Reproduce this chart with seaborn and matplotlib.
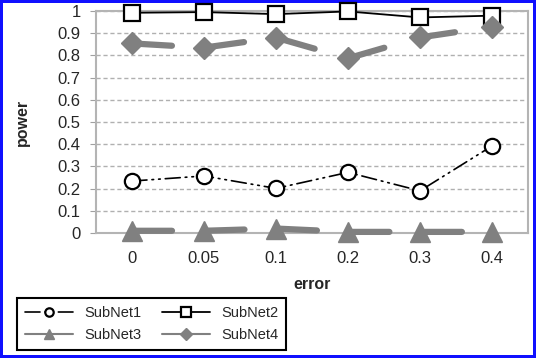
import numpy as np
import pandas as pd
import matplotlib
matplotlib.use("Agg")
import matplotlib.pyplot as plt
import seaborn as sns

# values
errors = ["0", "0.05", "0.1", "0.2", "0.3", "0.4"]
subnet1 = [0.234, 0.257, 0.201, 0.273, 0.190, 0.392]
subnet2 = [0.992, 0.995, 0.986, 0.998, 0.971, 0.979]
subnet3 = [0.010, 0.010, 0.020, 0.005, 0.005, 0.005]
subnet4 = [0.854, 0.835, 0.880, 0.787, 0.881, 0.929]

sns.set_style("white")
plt.rcParams["font.family"] = ["Liberation Sans", "DejaVu Sans"]

fig = plt.figure(figsize=(5.36, 3.58), dpi=100)
fig.patch.set_edgecolor("#1010ff")
fig.patch.set_linewidth(3)
ax = fig.add_axes([96 / 536, 1 - 233 / 358, 432 / 536, 222 / 358])

pos = np.arange(len(errors))
grey = "#808080"

styles = {
    "SubNet1": dict(y=subnet1, color="black", lw=1.2, dashes=(9, 3, 1, 3, 1, 3),
                    marker="o", ms=11, mfc="white", mec="black", mew=1.6),
    "SubNet2": dict(y=subnet2, color="black", lw=1.3, dashes=None,
                    marker="s", ms=12, mfc="white", mec="black", mew=1.6),
    "SubNet3": dict(y=subnet3, color=grey, lw=4.5, dashes=(6.4, 5.2),
                    marker="^", ms=14, mfc=grey, mec=grey, mew=1),
    "SubNet4": dict(y=subnet4, color=grey, lw=4.5, dashes=(6.4, 5.2),
                    marker="D", ms=11, mfc=grey, mec=grey, mew=1),
}

for name, s in styles.items():
    sns.lineplot(x=pos, y=s["y"], ax=ax, color=s["color"], linewidth=s["lw"],
                 marker=s["marker"], markersize=s["ms"], markerfacecolor=s["mfc"],
                 markeredgecolor=s["mec"], markeredgewidth=s["mew"], label=name,
                 legend=False, clip_on=False, zorder=3)
    line = ax.get_lines()[-1]
    line.set_dash_capstyle("round")
    if s["dashes"] is not None:
        line.set_dashes(s["dashes"])

ax.set_xlim(-0.5, len(errors) - 0.5)
ax.set_ylim(0, 1)
ax.set_yticks(np.arange(0, 1.01, 0.1))
ax.set_yticklabels(["0"] + [f"{v:.1f}" for v in np.arange(0.1, 0.95, 0.1)] + ["1"])
ax.set_xticks(pos)
ax.set_xticklabels(errors)
ax.set_xticks(pos[:-1] + 0.5, minor=True)
ax.tick_params(axis="x", which="major", length=0, pad=13, labelsize=12)
ax.tick_params(axis="x", which="minor", direction="inout", length=5, color="#a0a0a0")
ax.tick_params(axis="y", length=4, color="#a0a0a0", pad=7, labelsize=12, left=True)

ax.yaxis.grid(True, linestyle=(0, (3, 2)), color="#b0b0b0", linewidth=1)
ax.set_axisbelow(True)
for sp in ax.spines.values():
    sp.set_color("#b4b4b4")
    sp.set_linewidth(1.5)

ax.set_xlabel("error", fontsize=11.5, fontweight="bold", labelpad=8)
ax.set_ylabel("power", fontsize=11.5, fontweight="bold", labelpad=20)

handles, labels = ax.get_legend_handles_labels()
order = [0, 2, 1, 3]  # row-major fill: SubNet1, SubNet2 / SubNet3, SubNet4
leg = fig.legend([handles[i] for i in order], [labels[i] for i in order],
                 loc="lower left", ncol=2,
                 bbox_to_anchor=(10 / 536, 1 / 358), fontsize=10.5,
                 handlelength=3.3, columnspacing=1.4, labelspacing=0.6,
                 markerscale=0.55, fancybox=False, framealpha=1,
                 edgecolor="black", borderpad=0.5)
leg.get_frame().set_linewidth(1.5)
for ln in leg.get_lines():
    if ln.get_color() == grey:
        ln.set_linewidth(1.5)
        ln.set_linestyle("-")

fig.savefig("out.png", dpi=100)
